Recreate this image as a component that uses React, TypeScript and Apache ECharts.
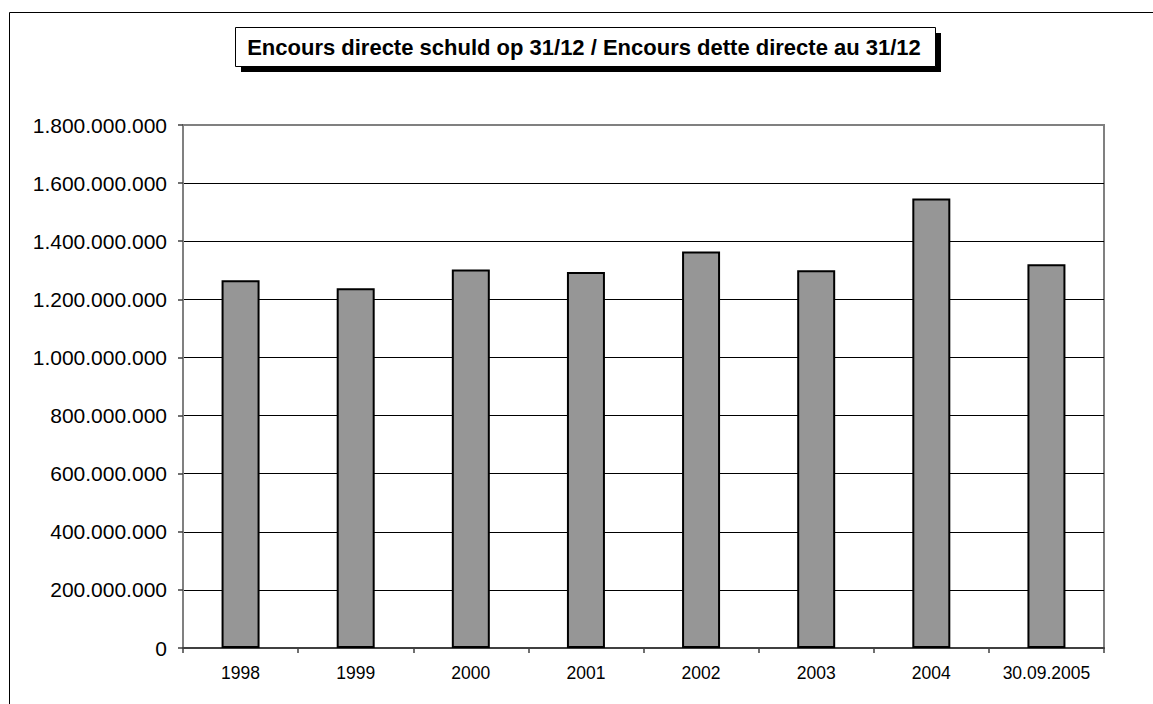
import React, { useEffect, useRef } from "react";
import * as echarts from "echarts";

const titleText = "Encours directe schuld op 31/12 / Encours dette directe au 31/12";
const categories = ["1998", "1999", "2000", "2001", "2002", "2003", "2004", "30.09.2005"];
const debtValues = [1266000000, 1238000000, 1303000000, 1294000000, 1365000000, 1300000000, 1547000000, 1321000000];
const yMin = 0;
const yMax = 1800000000;
const yInterval = 200000000;

const FONT = "'Liberation Sans', Arial, Helvetica, sans-serif";

function fmt(v: number): string {
  const s = Math.round(v).toString();
  return s.replace(/\B(?=(\d{3})+(?!\d))/g, ".");
}

export default function App() {
  const ref = useRef<HTMLDivElement>(null);
  useEffect(() => {
    document.body.style.margin = "0";
    if (!ref.current) return;
    const chart = echarts.init(ref.current, undefined, { renderer: "svg" });
    const splitColors = [];
    for (let i = 0; i < 9; i++) splitColors.push("#000000");
    splitColors.push("#808080");
    chart.setOption({
      animation: false,
      backgroundColor: "#ffffff",
      textStyle: { fontFamily: FONT },
      grid: {
        left: 183,
        right: 49,
        top: 125,
        bottom: 56,
        show: true,
        borderColor: "#808080",
        borderWidth: 2,
        backgroundColor: "transparent",
      },
      graphic: [
        {
          type: "rect",
          shape: { x: 9.5, y: 12.5, width: 1300, height: 900 },
          style: { fill: "none", stroke: "#000", lineWidth: 1 },
          silent: true,
        },
        {
          type: "rect",
          shape: { x: 241, y: 33, width: 700, height: 39 },
          style: { fill: "#000" },
          silent: true,
        },
        {
          type: "rect",
          shape: { x: 235.5, y: 27.5, width: 700, height: 39 },
          style: { fill: "#fff", stroke: "#000", lineWidth: 1 },
          silent: true,
        },
        {
          type: "text",
          x: 584,
          y: 47,
          style: {
            text: titleText,
            fontFamily: FONT,
            fontSize: 22,
            fontWeight: "bold",
            fill: "#000",
            align: "center",
            verticalAlign: "middle",
          },
          silent: true,
        },
      ],
      xAxis: {
        type: "category",
        data: categories,
        boundaryGap: true,
        axisLine: { lineStyle: { color: "#404040", width: 2 } },
        axisTick: { show: true, length: 5, lineStyle: { color: "#404040", width: 1.5 } },
        axisLabel: { color: "#000", fontSize: 17.5, margin: 16, fontFamily: FONT },
        splitLine: { show: false },
      },
      yAxis: {
        type: "value",
        min: yMin,
        max: yMax,
        interval: yInterval,
        axisLine: { show: true, lineStyle: { color: "#808080", width: 2 } },
        axisTick: { show: true, length: 5, lineStyle: { color: "#404040", width: 1.5 } },
        axisLabel: {
          color: "#000",
          fontSize: 21,
          margin: 16,
          fontFamily: FONT,
          formatter: (v: number) => fmt(v),
        },
        splitLine: { show: true, lineStyle: { color: splitColors, width: 1 } },
      },
      series: [
        {
          type: "bar",
          data: debtValues,
          barWidth: 38,
          itemStyle: { color: "#969696", borderColor: "#000", borderWidth: 2 },
        },
      ],
    });
    return () => chart.dispose();
  }, []);
  return <div ref={ref} style={{ width: 1153, height: 704 }} />;
}
